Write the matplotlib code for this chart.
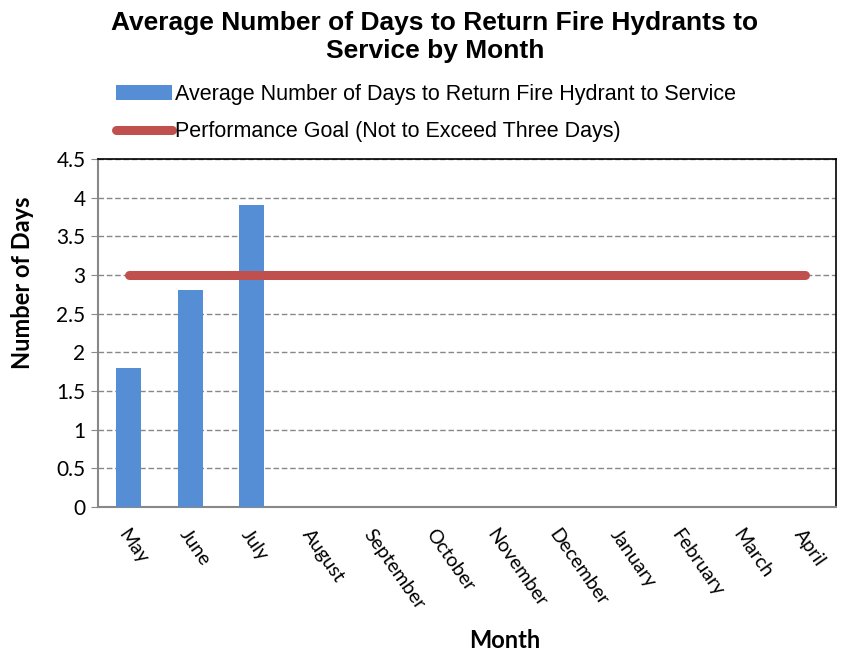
import matplotlib
matplotlib.use("Agg")
import matplotlib.pyplot as plt
import numpy as np
from matplotlib.patches import Patch
from matplotlib.lines import Line2D

# ── Data ──────────────────────────────────────────────────────────────────
MONTHS = ["May", "June", "July", "August", "September", "October",
          "November", "December", "January", "February", "March", "April"]
AVG_DAYS = [1.8, 2.8, 3.9, None, None, None, None, None, None, None, None, None]
GOAL = [3, 3, 3, 3, 3, 3, 3, 3, 3, 3, 3, 3]
Y_TICKS = [0, 0.5, 1, 1.5, 2, 2.5, 3, 3.5, 4, 4.5]

BAR_LABEL = "Average Number of Days to Return Fire Hydrant to Service"
GOAL_LABEL = "Performance Goal (Not to Exceed Three Days)"

BLUE = "#558ED5"
RED = "#C0504D"
TITLE_FONT = ["Liberation Sans", "DejaVu Sans"]
TICK_FONT = ["Lato", "DejaVu Sans"]

fig = plt.figure(figsize=(8.46, 6.53), dpi=100, facecolor="white")
ax = fig.add_axes([98 / 846, 1 - 507 / 653, 738 / 846, 348 / 653])

x = np.arange(len(MONTHS))
bar_x = [xi for xi, v in zip(x, AVG_DAYS) if v is not None]
bar_v = [v for v in AVG_DAYS if v is not None]
ax.bar(bar_x, bar_v, width=0.4, color=BLUE, zorder=3)
ax.plot(x, GOAL, color=RED, lw=6.5, solid_capstyle="round", zorder=4)

ax.set_xlim(-0.5, len(MONTHS) - 0.5)
ax.set_ylim(0, 4.5)
ax.set_yticks(Y_TICKS)
ax.set_yticklabels([f"{t:g}" for t in Y_TICKS], fontsize=15, family=TICK_FONT)
ax.set_xticks(x)
ax.set_xticklabels(MONTHS, rotation=-55, ha="left", va="top",
                   rotation_mode="anchor", fontsize=14, family=TICK_FONT)
ax.tick_params(axis="x", length=0, pad=14)
ax.tick_params(axis="y", length=5, color="#888888", pad=4)
ax.grid(axis="y", color="#888888", linestyle=(0, (4, 2)), lw=1, zorder=0)

for side in ["left", "bottom"]:
    ax.spines[side].set_color("#888888")
    ax.spines[side].set_linewidth(1.5)
for side in ["top", "right"]:
    ax.spines[side].set_color("black")
    ax.spines[side].set_linewidth(1.2)

fig.text(435 / 846, 1 - 37 / 653,
         "Average Number of Days to Return Fire Hydrants to\nService by Month",
         ha="center", va="center", fontsize=19, fontweight="bold",
         family=TITLE_FONT, linespacing=1.2)

handles = [Patch(facecolor=BLUE, edgecolor="none"),
           Line2D([0], [0], color=RED, lw=6.5, solid_capstyle="round")]
fig.legend(handles, [BAR_LABEL, GOAL_LABEL], loc="upper left",
           bbox_to_anchor=(116 / 846, 1 - 84 / 653), frameon=False,
           prop={"family": TITLE_FONT, "size": 15.5}, handlelength=2.6,
           handletextpad=0.15, labelspacing=0.75, borderpad=0, borderaxespad=0)

fig.text(22 / 846, 1 - 283 / 653, "Number of Days", rotation=90,
         ha="center", va="center", fontsize=17, fontweight="bold", family=TICK_FONT)
fig.text(505 / 846, 1 - 640 / 653, "Month", ha="center", va="center",
         fontsize=17, fontweight="bold", family=TICK_FONT)

fig.savefig("out.png", dpi=100, facecolor="white")
